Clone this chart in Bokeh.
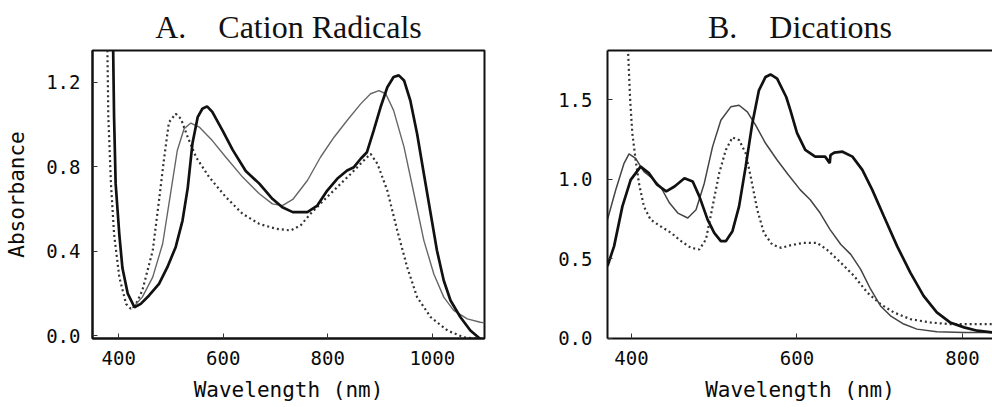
from bokeh.plotting import figure
from bokeh.layouts import row
from bokeh.models import FixedTicker, PrintfTickFormatter, Range1d, LinearAxis
from bokeh.embed import file_html
from bokeh.resources import INLINE

# ---------------- Panel A: Cation Radicals ----------------
a_ticks_x = [400, 600, 800, 1000]
a_ticks_y = [0.0, 0.4, 0.8, 1.2]

a_thick_x = [389, 391, 394, 401, 407, 417, 430, 442, 458, 477, 493, 509, 522, 532, 541, 551, 560,
             569, 579, 599, 618, 643, 669, 694, 713, 733, 761, 780, 799, 818, 837, 850, 863,
             875, 888, 901, 914, 926, 936, 946, 958, 971, 984, 997, 1009, 1022, 1035, 1054,
             1073, 1092, 1100]
a_thick_y = [1.40, 1.035, 0.72, 0.48, 0.32, 0.20, 0.134, 0.15, 0.19, 0.245, 0.324, 0.42, 0.545,
             0.70, 0.91, 1.035, 1.075, 1.086, 1.06, 0.97, 0.88, 0.78, 0.72, 0.648, 0.608, 0.585,
             0.585, 0.616, 0.687, 0.743, 0.782, 0.798, 0.838, 0.869, 0.972, 1.082, 1.177, 1.225,
             1.233, 1.209, 1.114, 0.956, 0.766, 0.577, 0.403, 0.261, 0.166, 0.087, 0.024,
             -0.016, -0.02]

a_thin_x = [426, 445, 465, 484, 500, 512, 525, 538, 554, 579, 605, 637, 669, 694, 713, 733, 761,
            786, 812, 837, 863, 882, 898, 911, 926, 946, 965, 984, 1003, 1022, 1041, 1067,
            1092, 1100]
a_thin_y = [0.13, 0.182, 0.277, 0.435, 0.687, 0.877, 0.98, 1.007, 0.988, 0.924, 0.845, 0.751,
            0.672, 0.624, 0.616, 0.645, 0.735, 0.845, 0.94, 1.019, 1.098, 1.146, 1.161, 1.146,
            1.067, 0.893, 0.672, 0.45, 0.292, 0.182, 0.119, 0.079, 0.063, 0.06]

a_dot_x = [378, 380, 385, 391, 401, 414, 423, 433, 445, 465, 477, 487, 496, 509, 519, 532, 548,
           573, 605, 637, 669, 701, 729, 748, 767, 792, 818, 844, 869, 882, 895, 914, 933,
           952, 971, 997, 1029, 1060, 1092, 1100]
a_dot_y = [1.40, 1.035, 0.72, 0.48, 0.277, 0.15, 0.127, 0.15, 0.213, 0.403, 0.64, 0.845, 1.011,
           1.051, 1.027, 0.94, 0.845, 0.751, 0.656, 0.577, 0.529, 0.506, 0.498, 0.522, 0.577,
           0.64, 0.703, 0.766, 0.83, 0.861, 0.814, 0.687, 0.498, 0.324, 0.182, 0.087, 0.024,
           -0.008, -0.016, -0.016]

# ---------------- Panel B: Dications ----------------
b_ticks_x = [400, 600, 800]
b_ticks_y = [0.0, 0.5, 1.0, 1.5]

b_thick_x = [371, 379, 389, 399, 411, 421, 431, 442, 452, 464, 474, 482, 492, 500, 508, 514, 522,
             530, 538, 546, 554, 562, 568, 576, 587, 592, 600, 610, 622, 634, 639.6, 640.5,
             645, 655, 667, 679, 691, 705, 721, 737, 753, 769, 785, 802, 818, 836.3]
b_thick_y = [0.453, 0.578, 0.828, 0.995, 1.078, 1.037, 0.964, 0.922, 0.953, 1.005, 0.985, 0.891,
             0.745, 0.661, 0.609, 0.609, 0.672, 0.828, 1.078, 1.35, 1.558, 1.642, 1.658, 1.631,
             1.516, 1.433, 1.29, 1.183, 1.141, 1.141, 1.10, 1.15, 1.166, 1.172, 1.141, 1.058,
             0.932, 0.766, 0.578, 0.411, 0.265, 0.161, 0.098, 0.067, 0.046, 0.035]

b_thin_x = [371, 381, 391, 397, 405, 415, 425, 435, 446, 456, 468, 478, 488, 498, 508, 520, 530,
            540, 550, 562, 576, 589, 604, 616, 628, 640, 653, 665, 677, 689, 701, 713, 729,
            745, 769, 802, 836.3]
b_thin_y = [0.745, 0.933, 1.099, 1.158, 1.13, 1.047, 1.005, 0.953, 0.849, 0.786, 0.755, 0.807,
            0.974, 1.204, 1.37, 1.454, 1.464, 1.423, 1.339, 1.225, 1.12, 1.03, 0.932, 0.87,
            0.786, 0.682, 0.588, 0.526, 0.432, 0.307, 0.202, 0.14, 0.088, 0.056, 0.04, 0.035,
            0.035]

b_dot_x = [395.5, 396, 398.4, 401, 405, 409, 415, 423, 435, 448, 460, 472, 482, 490, 498, 506,
           514, 522, 530, 538, 544, 552, 560, 570, 581, 592, 608, 624, 636, 653, 669, 685,
           701, 717, 737, 761, 785, 810, 836.3]
b_dot_y = [1.85, 1.788, 1.496, 1.287, 1.12, 0.974, 0.828, 0.745, 0.703, 0.661, 0.609, 0.567,
           0.557, 0.62, 0.828, 1.037, 1.183, 1.262, 1.245, 1.162, 1.016, 0.807, 0.661, 0.588,
           0.567, 0.583, 0.599, 0.599, 0.557, 0.474, 0.39, 0.286, 0.213, 0.161, 0.119, 0.098,
           0.087, 0.087, 0.087]

x_label = "Wavelength (nm)"
y_label = "Absorbance"

TICK_FONT = "DejaVu Sans Mono"
TITLE_FONT = "Liberation Serif"


def style(p, xt, yt):
    p.xaxis.ticker = FixedTicker(ticks=xt)
    p.yaxis.ticker = FixedTicker(ticks=yt)
    p.yaxis.formatter = PrintfTickFormatter(format="%.1f")
    for ax in (p.xaxis[0], p.yaxis[0]):
        ax.major_tick_in = 5
        ax.major_tick_out = 0
        ax.minor_tick_line_color = None
        ax.major_tick_line_width = 1
        ax.major_tick_line_color = "#333333"
        ax.axis_line_width = 2
        ax.axis_line_color = "#111111"
        ax.major_label_text_font = TICK_FONT
        ax.major_label_text_font_size = "19px"
        ax.major_label_text_font_style = "normal"
        ax.major_label_text_color = "#0a0a0a"
        ax.axis_label_text_font = TICK_FONT
        ax.axis_label_text_font_size = "21px"
        ax.axis_label_text_font_style = "normal"
        ax.axis_label_text_color = "#0a0a0a"
    p.xaxis.major_label_standoff = 12
    p.xaxis.axis_label_standoff = 10
    p.xaxis.axis_label = x_label
    p.xgrid.visible = False
    p.ygrid.visible = False
    p.title.text_font = TITLE_FONT
    p.title.text_font_size = "32px"
    p.title.text_font_style = "normal"
    p.title.align = "center"
    p.title.text_color = "#111111"
    p.title.standoff = 11
    p.background_fill_color = "white"
    p.border_fill_color = "white"


pA = figure(width=500, height=407, output_backend="svg", toolbar_location=None,
            x_range=Range1d(349.7, 1100), y_range=Range1d(-0.014, 1.351),
            min_border_left=92, min_border_right=16, min_border_top=50, min_border_bottom=69,
            title="A.\u00a0\u00a0\u00a0\u00a0Cation Radicals")
style(pA, a_ticks_x, a_ticks_y)
pA.yaxis.axis_label = y_label
pA.yaxis.major_label_standoff = 12
pA.yaxis.axis_label_standoff = 14
pA.outline_line_color = "#111111"
pA.outline_line_width = 2
pA.outline_line_alpha = 1.0

pA.line(a_dot_x, a_dot_y, line_color="#333333", line_width=2.2, line_dash="2 3")
pA.line(a_thin_x, a_thin_y, line_color="#666666", line_width=1.4)
pA.line(a_thick_x, a_thick_y, line_color="#111111", line_width=2.7)

pB = figure(width=492, height=407, output_backend="svg", toolbar_location=None,
            x_range=Range1d(371, 836.3), y_range=Range1d(-0.003, 1.8085),
            min_border_left=107, min_border_right=0, min_border_top=50, min_border_bottom=69,
            title="B.\u00a0\u00a0\u00a0\u00a0Dications")
style(pB, b_ticks_x, b_ticks_y)
pB.yaxis.major_label_standoff = 15
pB.outline_line_color = None
top_axis = LinearAxis(ticker=FixedTicker(ticks=[]), axis_line_width=2, axis_line_color="#111111",
                      major_tick_line_color=None, minor_tick_line_color=None,
                      major_label_text_color=None)
pB.add_layout(top_axis, "above")

pB.line(b_dot_x, b_dot_y, line_color="#333333", line_width=2.2, line_dash="2 3")
pB.line(b_thin_x, b_thin_y, line_color="#444444", line_width=1.5)
pB.line(b_thick_x, b_thick_y, line_color="#111111", line_width=2.7)

layout = row(pA, pB, spacing=0)
open("out.html", "w").write(file_html(layout, INLINE))
